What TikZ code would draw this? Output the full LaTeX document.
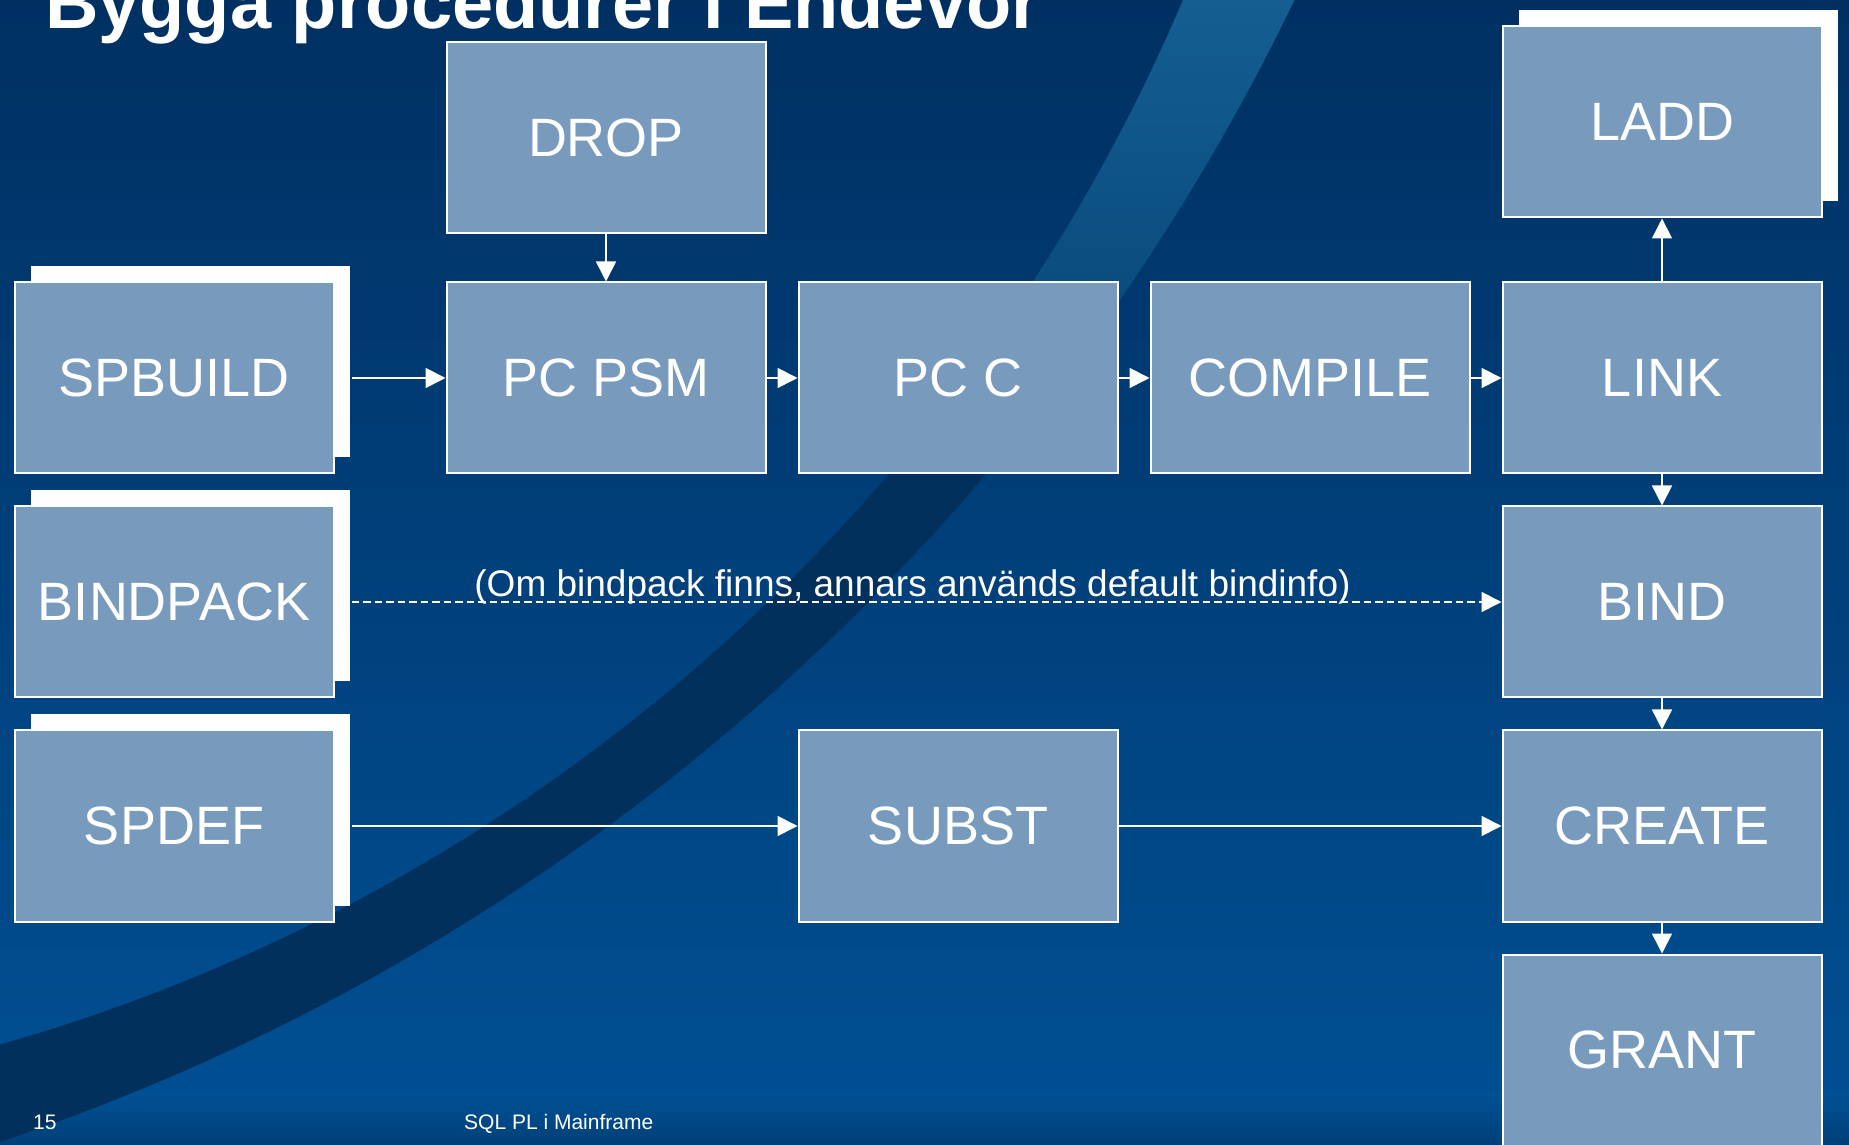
\documentclass[tikz,border=0pt]{standalone}
\usepackage{fontspec}
\setmainfont{Liberation Sans}
\usepackage{xcolor}
\usepackage{tikz}
\usetikzlibrary{arrows.meta,shadows}
\definecolor{bgtop}{RGB}{0,48,98}
\definecolor{bgmid}{RGB}{0,66,128}
\definecolor{bgbot}{RGB}{0,80,148}
\definecolor{bgedge}{RGB}{0,64,120}
\definecolor{bandlight}{RGB}{20,94,146}
\definecolor{bandfade}{RGB}{10,76,126}
\definecolor{banddark}{RGB}{2,48,92}
\definecolor{stepblue}{RGB}{120,154,188}
\pgfdeclareverticalshading{swoosh}{100bp}{color(0bp)=(banddark); color(55bp)=(banddark); color(62bp)=(bandfade); color(75bp)=(bandlight); color(100bp)=(bandlight)}

\begin{document}
\begin{tikzpicture}[x=1pt,y=1pt,
  stepbox/.style={draw=white, line width=2pt, fill=stepblue, minimum width=319pt,
    minimum height=191pt, inner sep=0pt, text=white, font=\fontsize{54}{60}\selectfont},
  shadowbox/.style={stepbox, general shadow={fill=white, shadow xshift=16pt, shadow yshift=16pt}},
  flow/.style={draw=white, line width=1.6pt, -{Triangle[length=20pt,width=20pt]}},
  optflow/.style={flow, dash pattern=on 7.5pt off 4pt}]
  % slide background with the swoosh
  \clip (0,0) rectangle (1849,1144);
  \shade[top color=bgtop, middle color=bgmid, bottom color=bgbot] (0,0) rectangle (1849,1144);
  \shade[top color=bgbot, bottom color=bgedge] (0,0) rectangle (1849,50);
  \begin{scope}[even odd rule]
    \clip (-704,2105) circle (2217pt) (-501,1859) circle (1829pt);
    \shade[shading=swoosh] (0,0) rectangle (1849,1144);
  \end{scope}

  % title
  \node[anchor=base west, inner sep=0pt, text=white, font=\bfseries\fontsize{74}{80}\selectfont]
    (title) at (45,1115) {Bygga procedurer i Endevor};

  % top row: DROP and LADD
  \node[stepbox] (drop) at (606,1006) {DROP};
  \node[shadowbox] (ladd) at (1662,1022) {LADD};

  % row 1: build chain
  \node[shadowbox] (spbuild) at (174,766) {SPBUILD};
  \node[stepbox] (pcpsm) at (606,766) {PC PSM};
  \node[stepbox] (pcc) at (958,766) {PC C};
  \node[stepbox] (compile) at (1310,766) {COMPILE};
  \node[stepbox] (link) at (1662,766) {LINK};

  % row 2: bind
  \node[shadowbox] (bindpack) at (174,542) {BINDPACK};
  \node[stepbox] (bind) at (1662,542) {BIND};

  % row 3 and 4: definition
  \node[shadowbox] (spdef) at (174,318) {SPDEF};
  \node[stepbox] (subst) at (958,318) {SUBST};
  \node[stepbox] (create) at (1662,318) {CREATE};
  \node[stepbox] (grant) at (1662,94) {GRANT};

  % connectors
  \draw[flow] ([xshift=17pt]spbuild.east) -- (pcpsm);
  \draw[flow] (drop) -- (pcpsm);
  \draw[flow] (pcpsm) -- (pcc);
  \draw[flow] (pcc) -- (compile);
  \draw[flow] (compile) -- (link);
  \draw[flow] (link) -- (ladd);
  \draw[flow] (link) -- (bind);
  \draw[flow] (bind) -- (create);
  \draw[flow] (create) -- (grant);
  \draw[optflow] ([xshift=17pt]bindpack.east) -- node[midway, anchor=base, xshift=-14pt, yshift=5pt,
    inner sep=0pt, text=white, font=\fontsize{37}{44}\selectfont] (note)
    {(Om bindpack finns, annars används default bindinfo)} (bind);
  \draw[flow] ([xshift=17pt]spdef.east) -- (subst);
  \draw[flow] (subst) -- (create);

  % footer
  \node[anchor=base west, inner sep=0pt, text=white, font=\fontsize{21}{24}\selectfont]
    (pageno) at (33,15) {15};
  \node[anchor=base west, inner sep=0pt, text=white, font=\fontsize{21}{24}\selectfont]
    (footer) at (464,15) {SQL PL i Mainframe};
\end{tikzpicture}
\end{document}
